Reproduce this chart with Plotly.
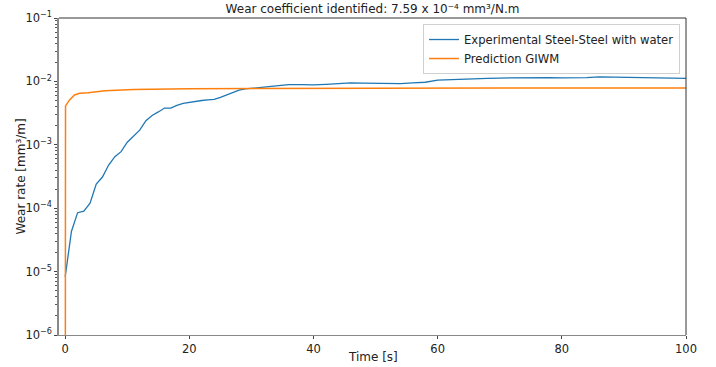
import plotly.graph_objects as go

# ---- data ----
t_exp = [0, 1, 2, 3, 4, 5, 6, 7, 8, 9, 10, 11, 12, 13, 14, 15, 16, 17, 18, 19, 20,
         21, 22, 23, 24, 25, 26, 27, 28, 29, 30, 32, 34, 36, 38, 40, 42, 44, 46, 48,
         50, 52, 54, 56, 58, 60, 62, 64, 66, 68, 70, 72, 74, 76, 78, 80, 82, 84, 86,
         88, 90, 92, 94, 96, 98, 100]
wear_exp = [8.3e-6, 4.3e-5, 8.5e-5, 9.0e-5, 1.2e-4, 2.4e-4, 3.1e-4, 4.8e-4, 6.5e-4, 7.8e-4,
            1.1e-3, 1.35e-3, 1.7e-3, 2.4e-3, 2.9e-3, 3.3e-3, 3.8e-3, 3.8e-3, 4.2e-3, 4.5e-3,
            4.7e-3, 4.9e-3, 5.0e-3, 5.1e-3, 5.2e-3, 5.6e-3, 6.1e-3, 6.8e-3, 7.3e-3, 7.6e-3,
            7.8e-3, 8.1e-3, 8.6e-3, 8.9e-3, 8.9e-3, 8.8e-3, 9.0e-3, 9.3e-3, 9.5e-3, 9.4e-3,
            9.3e-3, 9.1e-3, 9.2e-3, 9.5e-3, 9.7e-3, 1.05e-2, 1.07e-2, 1.1e-2, 1.1e-2, 1.12e-2,
            1.13e-2, 1.14e-2, 1.16e-2, 1.16e-2, 1.15e-2, 1.14e-2, 1.13e-2, 1.15e-2, 1.18e-2,
            1.17e-2, 1.14e-2, 1.13e-2, 1.13e-2, 1.12e-2, 1.12e-2, 1.12e-2]

t_pred = [0, 0.05, 0.7, 1.5, 2.3, 3.7, 6.4, 11, 20, 30, 50, 70, 100]
wear_pred = [1e-9, 4.1e-3, 5.1e-3, 6.1e-3, 6.5e-3, 6.6e-3, 7.1e-3, 7.45e-3, 7.65e-3,
             7.75e-3, 7.82e-3, 7.86e-3, 7.9e-3]

y_tick_vals = [1e-6, 1e-5, 1e-4, 1e-3, 1e-2, 1e-1]
y_tick_text = ["10<sup>−6</sup>", "10<sup>−5</sup>", "10<sup>−4</sup>",
               "10<sup>−3</sup>", "10<sup>−2</sup>", "10<sup>−1</sup>"]
y_minor_vals = [m * d for d in [1e-6, 1e-5, 1e-4, 1e-3, 1e-2] for m in range(2, 10)]
x_tick_vals = [0, 20, 40, 60, 80, 100]

FONT = "DejaVu Sans"
W, H = 716, 367
L, R, T, B = 59, 30, 18, 32

fig = go.Figure()
fig.add_trace(go.Scatter(x=t_exp, y=wear_exp, mode="lines",
                         name="Experimental Steel-Steel with water",
                         line=dict(color="#1f77b4", width=1.3)))
fig.add_trace(go.Scatter(x=t_pred, y=wear_pred, mode="lines",
                         name="Prediction GIWM",
                         line=dict(color="#ff7f0e", width=1.5)))

fig.update_layout(
    width=W, height=H,
    margin=dict(l=L, r=R, t=T, b=B, autoexpand=False),
    paper_bgcolor="white", plot_bgcolor="white",
    font=dict(family=FONT, size=11, color="#222"),
    title=dict(text="Wear coefficient identified: 7.59 x 10⁻⁴ mm³/N.m",
               x=(L + W - R) / 2 / W, xanchor="center",
               y=1 - 9 / H, yanchor="middle",
               font=dict(family=FONT, size=12, color="#222")),
    legend=dict(x=0.9904, y=0.981, xanchor="right", yanchor="top",
                bgcolor="rgba(255,255,255,0.8)", bordercolor="#d0d0d0", borderwidth=1,
                font=dict(family=FONT, size=11.6, color="#222"),
                itemwidth=30, tracegroupgap=0),
    showlegend=True,
)

fig.update_xaxes(range=[-1, 100], tickvals=x_tick_vals, automargin=False,
                 ticks="outside", ticklen=3, tickcolor="#444",
                 showline=True, linecolor="#888", linewidth=1.2,
                 showgrid=False, zeroline=False,
                 tickfont=dict(family=FONT, size=11.5))
fig.update_yaxes(type="log", range=[-6, -1], tickvals=y_tick_vals, ticktext=y_tick_text,
                 automargin=False,
                 ticks="outside", ticklen=3, tickcolor="#444",
                 minor=dict(ticks="outside", ticklen=2, tickcolor="#555", showgrid=False,
                            tickvals=y_minor_vals),
                 showline=True, linecolor="#888", linewidth=1.5,
                 showgrid=False, zeroline=False,
                 tickfont=dict(family=FONT, size=11.5))

# axis titles
fig.add_annotation(text="Time [s]", xref="paper", yref="paper",
                   x=0.5, y=-(357 - (H - B)) / (H - T - B), xanchor="center", yanchor="middle",
                   showarrow=False, font=dict(family=FONT, size=12, color="#222"))
fig.add_annotation(text="Wear rate [mm³/m]", xref="paper", yref="paper",
                   x=-(L - 20) / (W - L - R), y=0.5, xanchor="center", yanchor="middle",
                   textangle=-90, showarrow=False, font=dict(family=FONT, size=12, color="#222"))

# top and right spines
fig.add_shape(type="line", xref="paper", yref="paper", x0=0, x1=1, y0=1, y1=1,
              line=dict(color="#333", width=1))
fig.add_shape(type="line", xref="paper", yref="paper", x0=1, x1=1, y0=0, y1=1,
              line=dict(color="#333", width=1))

fig.write_html("out.html", config={"displayModeBar": False},
               post_script="document.body.style.margin='0';document.body.style.overflow='hidden';")
